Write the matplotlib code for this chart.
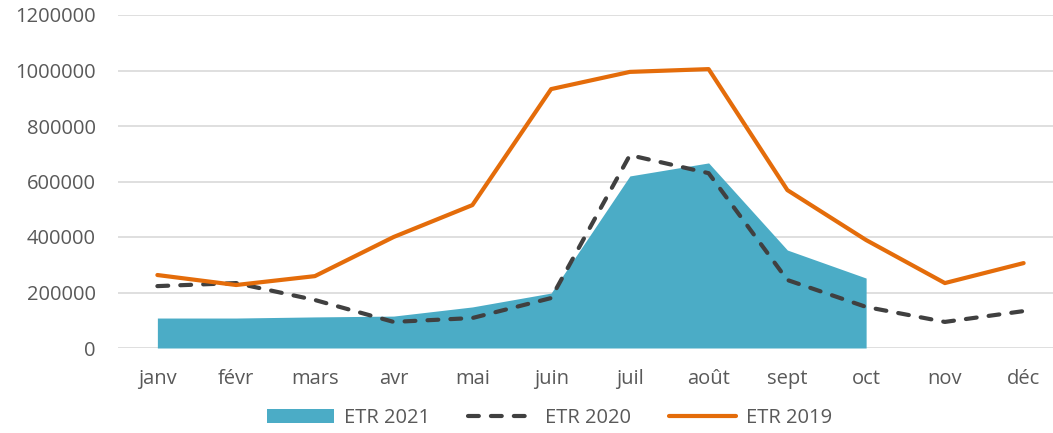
import matplotlib
matplotlib.use("Agg")
import matplotlib.pyplot as plt
import numpy as np

months = ["janv", "févr", "mars", "avr", "mai", "juin", "juil", "août", "sept", "oct", "nov", "déc"]
etr2021 = [108000, 108000, 112000, 115000, 148000, 198000, 620000, 667000, 353000, 252000]
etr2020 = [223000, 234000, 173000, 94000, 108000, 180000, 695000, 630000, 245000, 148000, 94000, 133000]
etr2019 = [263000, 227000, 259000, 400000, 515000, 933000, 995000, 1005000, 569000, 389000, 234000, 306000]
yticks = [0, 200000, 400000, 600000, 800000, 1000000, 1200000]

plt.rcParams['font.family'] = ['Open Sans', 'DejaVu Sans']
fig = plt.figure(figsize=(10.53, 4.33), dpi=100)
ax = fig.add_axes([118/1053, 1-348/433, (1063-118)/1053, (348-15)/433])

x = np.arange(len(months))
x21 = np.arange(len(etr2021))
ax.fill_between(x21, 0, etr2021, color="#4BACC6", linewidth=0, label="ETR 2021", zorder=2)
ax.plot(x, etr2020, color="#404040", lw=3, ls=(0, (2.6, 2.9)), dash_capstyle="round",
        solid_capstyle="round", label="ETR 2020", zorder=3)
ax.plot(x, etr2019, color="#E46C0A", lw=3, solid_capstyle="round", label="ETR 2019", zorder=4)

ax.set_xlim(-0.5, len(months) - 0.5)
ax.set_ylim(0, 1200000)
ax.set_yticks(yticks)
ax.set_yticklabels([str(v) for v in yticks])
ax.set_xticks(x)
ax.set_xticklabels(months)
ax.grid(axis="y", color="#D9D9D9", lw=1.2, zorder=0)
ax.set_axisbelow(True)
for s in ax.spines.values():
    s.set_visible(False)
ax.tick_params(axis="both", length=0, labelsize=14.5, labelcolor="#595959")
ax.tick_params(axis="y", pad=16)
ax.tick_params(axis="x", pad=15)

leg = fig.legend(loc="center", bbox_to_anchor=(0.522, 1-418/433), ncol=3, frameon=False,
                 fontsize=14.5, handlelength=3.3, columnspacing=1.9, handletextpad=0.5,
                 borderaxespad=0, borderpad=0)
for t in leg.get_texts():
    t.set_color("#595959")

fig.savefig("out.png", dpi=100)
